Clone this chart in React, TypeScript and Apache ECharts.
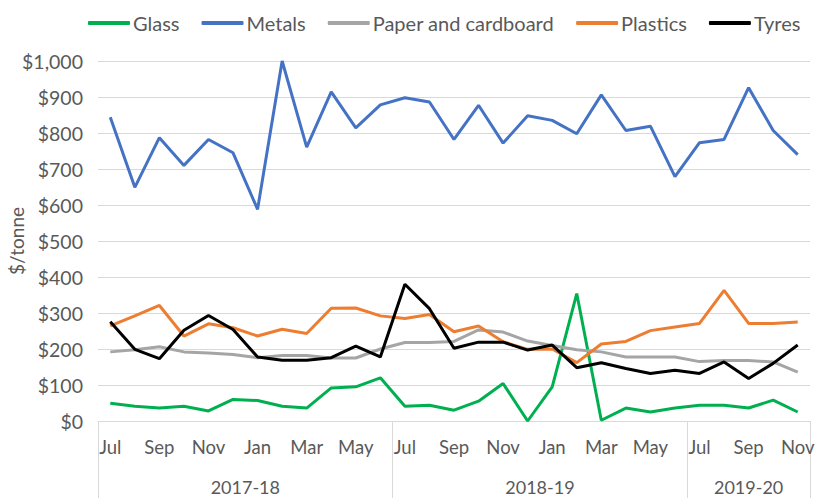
import React, { useEffect, useRef } from "react";
import * as echarts from "echarts";

const months = [
  "Jul", "Aug", "Sep", "Oct", "Nov", "Dec", "Jan", "Feb", "Mar", "Apr", "May", "Jun",
  "Jul", "Aug", "Sep", "Oct", "Nov", "Dec", "Jan", "Feb", "Mar", "Apr", "May", "Jun",
  "Jul", "Aug", "Sep", "Oct", "Nov",
];
const groups = ["2017-18", "2018-19", "2019-20"];
const groupSizes = [12, 12, 5];

const glass = [49, 41, 36, 41, 28, 60, 57, 41, 36, 92, 95, 120, 41, 44, 30, 55, 104, 0, 95, 354, 2, 36, 25, 36, 44, 44, 36, 58, 25];
const metals = [844, 649, 787, 710, 782, 745, 588, 1000, 761, 914, 814, 878, 898, 886, 782, 877, 772, 848, 835, 798, 906, 807, 819, 679, 773, 782, 926, 807, 740];
const paper = [192, 198, 206, 192, 189, 185, 176, 182, 182, 175, 175, 200, 218, 218, 221, 253, 247, 222, 210, 198, 192, 178, 178, 178, 165, 168, 168, 164, 136];
const plastics = [264, 292, 321, 236, 270, 259, 236, 255, 243, 313, 314, 292, 285, 296, 248, 264, 220, 199, 200, 162, 214, 221, 251, 261, 271, 363, 271, 271, 275];
const tyres = [276, 199, 173, 252, 293, 254, 178, 169, 169, 176, 208, 178, 380, 312, 202, 219, 219, 197, 211, 148, 162, 146, 132, 141, 132, 164, 118, 160, 211];

const FONT = "Lato, 'Noto Sans', sans-serif";
const TEXT = "#595959";
const GRIDC = "#d9d9d9";

export default function App() {
  const ref = useRef<HTMLDivElement>(null);
  useEffect(() => {
    if (!ref.current) return;
    const chart = echarts.init(ref.current, undefined, { renderer: "svg" });
    const bounds: number[] = [0];
    const centers: number[] = [];
    groupSizes.forEach((s) => {
      const start = bounds[bounds.length - 1];
      centers.push(start + s / 2);
      bounds.push(start + s);
    });
    const mk = (name: string, data: number[], color: string) => ({
      name,
      type: "line",
      data,
      xAxisIndex: 0,
      showSymbol: false,
      symbol: "none",
      lineStyle: { color, width: 3 },
      itemStyle: { color },
    });
    chart.setOption({
      animation: false,
      textStyle: { fontFamily: FONT },
      legend: {
        top: 8,
        left: 83,
        icon: "roundRect",
        itemWidth: 42,
        itemHeight: 4,
        itemGap: 22,
        textStyle: { fontSize: 20, color: TEXT, fontFamily: FONT, padding: [0, 0, 0, -2] },
        data: ["Glass", "Metals", "Paper and cardboard", "Plastics", "Tyres"],
      },
      grid: { left: 98, right: 15, top: 61, bottom: 77, containLabel: false, outerBoundsMode: "none" },
      xAxis: [
        {
          type: "category",
          data: months,
          boundaryGap: true,
          axisLine: { lineStyle: { color: GRIDC, width: 1 } },
          axisTick: { show: false },
          axisLabel: { interval: 1, fontSize: 18.5, color: TEXT, margin: 16, fontFamily: FONT },
        },
        {
          type: "value",
          min: 0,
          max: months.length,
          position: "bottom",
          axisLine: { show: false },
          splitLine: { show: false },
          axisTick: {
            show: true,
            customValues: bounds,
            length: 77,
            lineStyle: { color: GRIDC, width: 1 },
          },
          axisLabel: {
            customValues: centers,
            margin: 57,
            fontSize: 18,
            color: TEXT,
            fontFamily: FONT,
            formatter: (v: number) => {
              const i = centers.findIndex((c) => Math.abs(c - v) < 1e-6);
              return i >= 0 ? groups[i] : "";
            },
          },
        },
      ],
      yAxis: {
        type: "value",
        min: 0,
        max: 1000,
        interval: 100,
        name: "$/tonne",
        nameLocation: "middle",
        nameGap: 72,
        nameMoveOverlap: false,
        nameTextStyle: { fontSize: 19, color: TEXT, fontFamily: FONT },
        axisLine: { show: false },
        axisTick: { show: false },
        splitLine: { lineStyle: { color: GRIDC, width: 1 } },
        axisLabel: {
          fontSize: 19.5,
          color: TEXT,
          margin: 15,
          fontFamily: FONT,
          formatter: (v: number) => "$" + v.toLocaleString("en-US"),
        },
      },
      series: [
        mk("Glass", glass, "#00B050"),
        mk("Metals", metals, "#4472C4"),
        mk("Paper and cardboard", paper, "#A5A5A5"),
        mk("Plastics", plastics, "#ED7D31"),
        mk("Tyres", tyres, "#000000"),
      ],
    });
    return () => chart.dispose();
  }, []);
  return <div ref={ref} style={{ width: 825, height: 498, position: "absolute", left: 0, top: 0 }} />;
}
